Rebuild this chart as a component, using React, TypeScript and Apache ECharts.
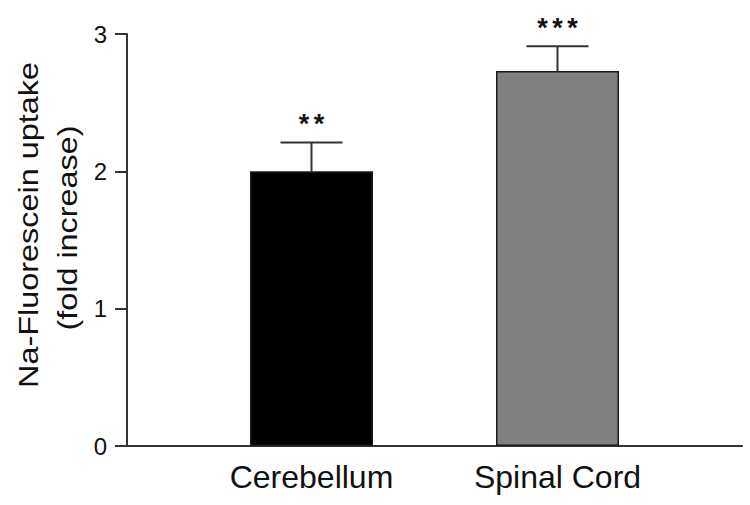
import React, { useEffect, useRef } from "react";
import * as echarts from "echarts";

const categories = ["", "Cerebellum", "", "Spinal Cord", ""];
const means = [null, 2.0, null, 2.73, null];
const sems = [null, 0.21, null, 0.18, null];
const stars = [0, 2, 0, 3, 0];
const barColors = ["#000000", "#000000", "#000000", "#808080", "#000000"];
const yTicks = [0, 1, 2, 3];
const yTitle = ["Na-Fluorescein uptake", "(fold increase)"];

export default function App() {
  const ref = useRef<HTMLDivElement>(null);
  useEffect(() => {
    if (!ref.current) return;
    const chart = echarts.init(ref.current, null, { renderer: "svg" });
    const barData = means.map((v, i) =>
      v == null
        ? null
        : {
            value: v,
            itemStyle: {
              color: barColors[i],
              borderColor: "#1a1a1a",
              borderWidth: 1.5,
            },
          }
    );
    const errData: any[] = [];
    means.forEach((v, i) => {
      if (v != null && sems[i] != null) {
        errData.push([i, v, v + (sems[i] as number), stars[i]]);
      }
    });
    const font = "'Liberation Sans', Arial, Helvetica, sans-serif";
    const titleStyle = (t: string) => ({
      text: t,
      font: `27px ${font}`,
      fill: "#111",
      align: "center",
      verticalAlign: "middle",
    });
    chart.setOption({
      animation: false,
      grid: { left: 127, right: 8, top: 34, bottom: 59, containLabel: false },
      xAxis: {
        type: "category",
        data: categories,
        axisLine: { lineStyle: { color: "#333", width: 2 } },
        axisTick: { show: false },
        axisLabel: {
          interval: 0,
          fontSize: 32,
          color: "#111",
          fontFamily: font,
          margin: 15,
        },
      },
      yAxis: {
        type: "value",
        min: yTicks[0],
        max: yTicks[yTicks.length - 1],
        interval: 1,
        splitLine: { show: false },
        axisLine: { show: true, lineStyle: { color: "#333", width: 2 } },
        axisTick: { show: true, length: 12, lineStyle: { color: "#333", width: 2 } },
        axisLabel: { fontSize: 24, color: "#111", fontFamily: font, margin: 20 },
      },
      graphic: [
        { type: "text", x: 28, y: 225, rotation: Math.PI / 2, scaleX: 1.2, style: titleStyle(yTitle[0]) },
        { type: "text", x: 67, y: 228, rotation: Math.PI / 2, scaleX: 1.2, style: titleStyle(yTitle[1]) },
      ],
      series: [
        {
          type: "bar",
          data: barData,
          barWidth: "100%",
        },
        {
          type: "custom",
          data: errData,
          z: 5,
          renderItem: (params: any, api: any) => {
            const x = api.value(0);
            const lo = api.coord([x, api.value(1)]);
            const hi = api.coord([x, api.value(2)]);
            const half = 31;
            const ls = { stroke: "#333", lineWidth: 2 };
            const n = api.value(3);
            const gap = 15;
            const children: any[] = [
              { type: "line", shape: { x1: lo[0], y1: lo[1], x2: hi[0], y2: hi[1] }, style: ls },
              { type: "line", shape: { x1: hi[0] - half, y1: hi[1], x2: hi[0] + half, y2: hi[1] }, style: ls },
            ];
            for (let k = 0; k < n; k++) {
              children.push({
                type: "text",
                x: hi[0] + (k - (n - 1) / 2) * gap,
                y: hi[1] - 18,
                style: {
                  text: "*",
                  font: `bold 27px ${font}`,
                  fill: "#111",
                  align: "center",
                  verticalAlign: "middle",
                },
              });
            }
            return { type: "group", children };
          },
        },
      ],
    });
    return () => chart.dispose();
  }, []);
  return (
    <div
      ref={ref}
      style={{ position: "absolute", left: 0, top: 0, width: 750, height: 505 }}
    />
  );
}
